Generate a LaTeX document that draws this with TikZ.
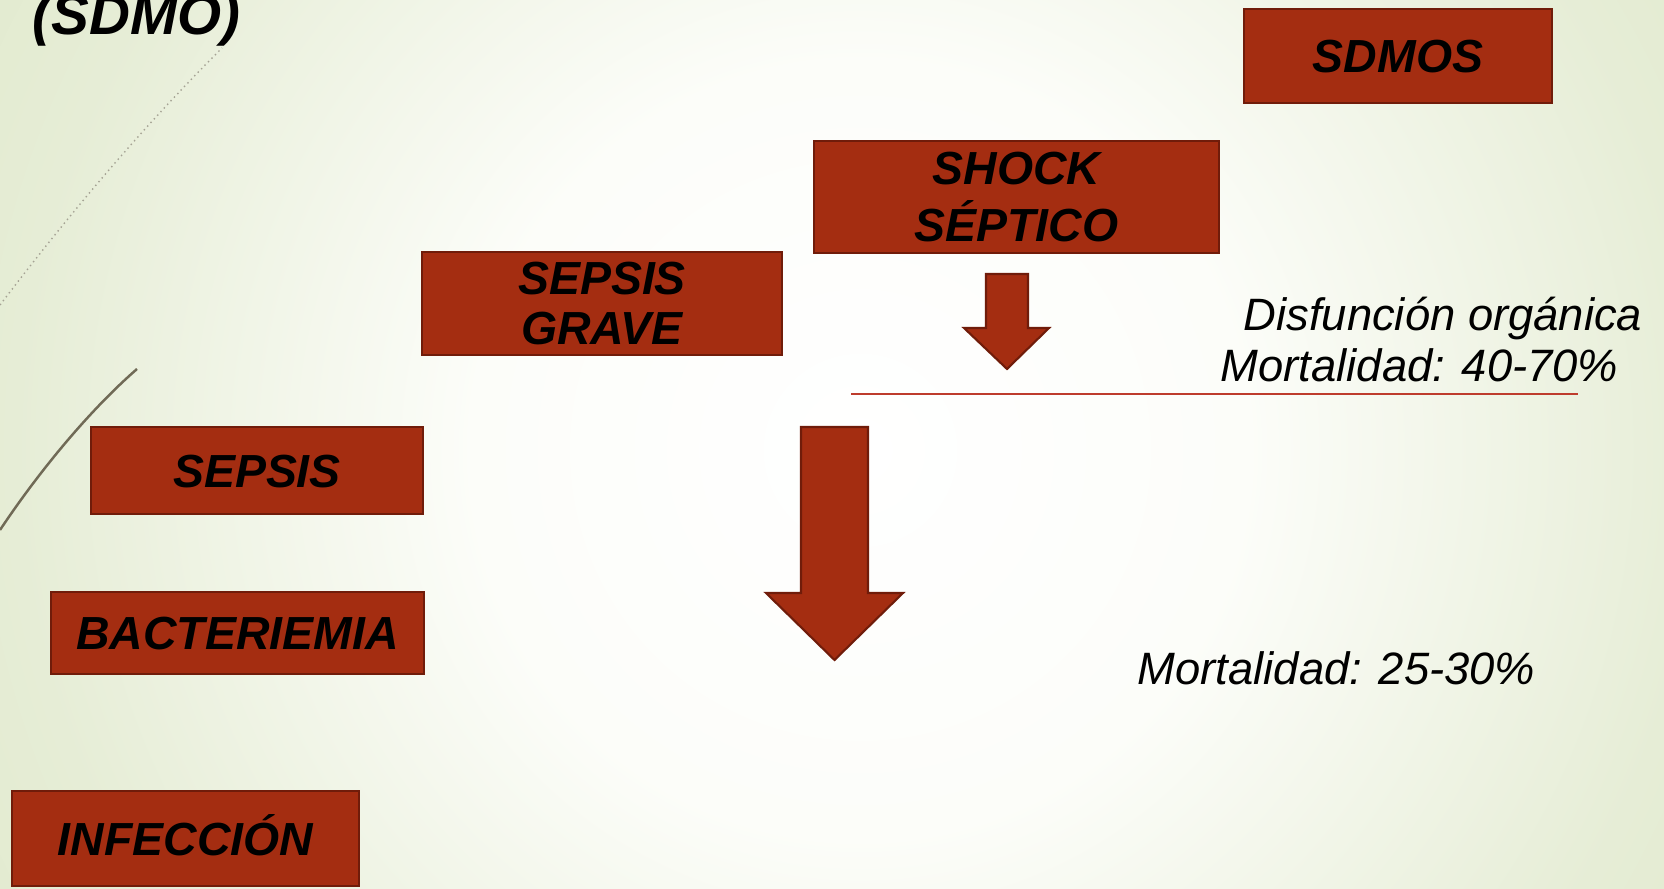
\documentclass[tikz,border=0pt]{standalone}
\usepackage{fontspec}
\setmainfont{Liberation Sans}
\usetikzlibrary{positioning}
\usepackage{xcolor}

\definecolor{boxred}{RGB}{164,45,17}
\definecolor{boxedge}{RGB}{112,28,10}
\definecolor{bgwhite}{RGB}{252,253,249}
\definecolor{bggreen}{RGB}{230,237,214}
\definecolor{bgcorner}{RGB}{225,234,205}
\definecolor{rulered}{RGB}{190,60,45}
\definecolor{swoosh}{RGB}{112,106,86}
\definecolor{swooshlight}{RGB}{165,163,148}

\pgfdeclareradialshading{slidebg}{\pgfpoint{0bp}{0bp}}{color(0bp)=(white); color(11bp)=(bgwhite); color(24bp)=(bggreen); color(30bp)=(bgcorner); color(50bp)=(bgcorner)}

\begin{document}
\begin{tikzpicture}[
        x=0.01cm, y=-0.01cm,
        stagebox/.style={draw=boxedge, fill=boxred, line width=0.6pt, inner sep=0pt,
            align=center, text=black,
            font=\fontsize{13.2pt}{14.2pt}\selectfont\bfseries\itshape},
        oneline/.style={text height=9.4pt, text depth=0pt},
        note/.style={inner sep=0pt, anchor=base west,
            font=\fontsize{12.9pt}{15pt}\selectfont\itshape},
        blockarrow/.style={draw=boxedge, fill=boxred, line width=0.6pt, line join=miter}
    ]
        \useasboundingbox (0,0) rectangle (1664,889);

        % background
        \begin{scope}
            \clip (0,0) rectangle (1664,889);
            \shade[shading=slidebg] (-20,-430) rectangle (1740,1330);
        \end{scope}

        % decorative swooshes on the left
        \draw[swooshlight, line width=0.4pt, densely dotted] (0,305) .. controls (80,200) and (150,120) .. (222,48);
        \draw[swoosh, line width=0.7pt] (0,530) .. controls (40,470) and (90,410) .. (137,369);

        % title
        \node[anchor=base west, inner sep=0pt,
            font=\fontsize{16.1pt}{18pt}\selectfont\bfseries\itshape] (title) at (32,35) {(SDMO)};

        % stages - staircase
        \node[stagebox, oneline, minimum width=3.08cm, minimum height=0.94cm] (sdmos) at (1398,56) {SDMOS};
        \node[stagebox, minimum width=4.05cm, minimum height=1.12cm] (shock) at (1016.5,197) {SHOCK\\[2pt]SÉPTICO};
        \node[stagebox, minimum width=3.60cm, minimum height=1.03cm] (grave) at (602,303.5) {SEPSIS\\GRAVE};
        \node[stagebox, oneline, minimum width=3.32cm, minimum height=0.87cm] (sepsis) at (257,470.5) {SEPSIS};
        \node[stagebox, oneline, minimum width=3.73cm, minimum height=0.82cm] (bacter) at (237.5,633) {BACTERIEMIA};
        \node[stagebox, oneline, minimum width=3.47cm, minimum height=0.95cm] (infec) at (185.5,838.5) {INFECCIÓN};

        % block arrows
        \draw[blockarrow] (986,274) -- (1028,274) -- (1028,328) -- (1049,328) -- (1007,369) -- (964,328) -- (986,328) -- cycle;
        \draw[blockarrow] (801,427) -- (868,427) -- (868,593) -- (903,593) -- (834.5,660) -- (766,593) -- (801,593) -- cycle;

        % separator
        \draw[rulered, line width=0.4pt] (851,394) -- (1578,394);

        % notes
        \node[note] (disf) at (1243,331) {Disfunción orgánica};
        \node[note] (mortalta) at (1220,382) {Mortalidad: 40-70\%};
        \node[note] (mortbaja) at (1137,685) {Mortalidad: 25-30\%};

    \end{tikzpicture}
\end{document}
